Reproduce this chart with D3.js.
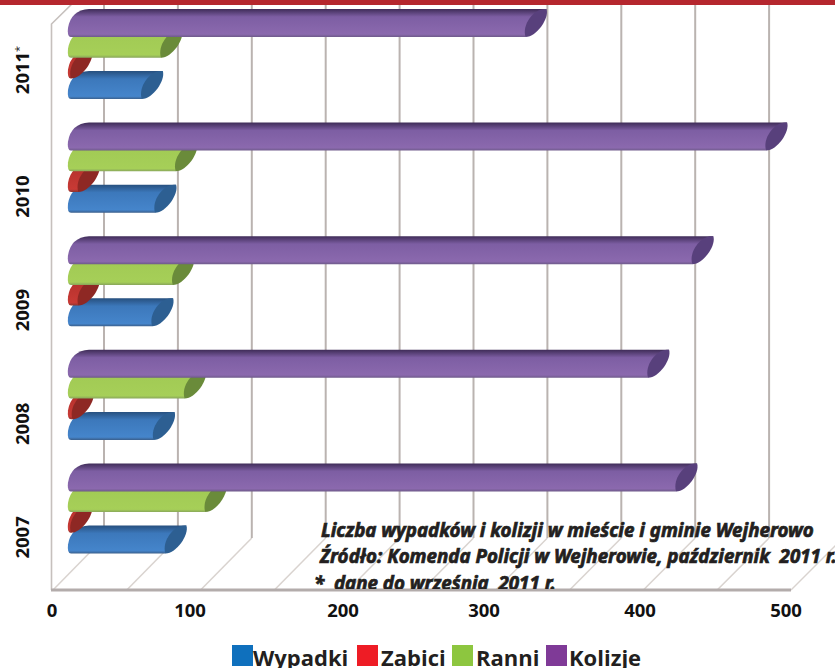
<!DOCTYPE html>
<html><head><meta charset="utf-8">
<script src="https://cdn.jsdelivr.net/npm/d3@7"></script>
<style>html,body{margin:0;padding:0;background:#fff}svg{display:block}</style>
</head><body><svg id="c" width="835" height="668"></svg>
<script>
const years = ["2007","2008","2009","2010","2011"];
const seriesNames = ["Wypadki","Zabici","Ranni","Kolizje"];
const wypadki = [66,58,57,59,50];
const zabici = [2,3,7,7,2];
const ranni = [93,79,71,73,63];
const kolizje = [412,393,423,473,310];
const ticks = [0,100,200,300,400,500];
const gridTicks = [0,50,100,150,200,250,300,350,400,450,500];
const noteLines = ["Liczba wypadków i kolizji w mieście i gminie Wejherowo","Źródło: Komenda Policji w Wejherowie, październik\u00a0 2011 r.","*\u00a0 dane do września\u00a0 2011 r."];

const fills = [
 {top:"#27507f",mid:"#3c78bb",bot:"#4585cb",cap:"#2d5f92",line:"#3a5f8c"},
 {top:"#7a2420",mid:"#b9332e",bot:"#c83a35",cap:"#8e2824",line:"#8a3430"},
 {top:"#7f9e45",mid:"#a2cb55",bot:"#a6cf58",cap:"#6a8b3a",line:"#88a65a"},
 {top:"#3f2c58",mid:"#7d5ea3",bot:"#8b69ae",cap:"#58407c",line:"#6e5a8a"}
];
const legendFills = ["#0f70bd","#ee1c25","#8dc63f","#7f3a97"];

const svg = d3.select("#c");
const defs = svg.append("defs");
fills.forEach((f,i)=>{
  const g = defs.append("linearGradient").attr("id","g"+i).attr("x1",0).attr("x2",0).attr("y1",0).attr("y2",1);
  g.append("stop").attr("offset","0").attr("stop-color",f.top);
  g.append("stop").attr("offset","0.28").attr("stop-color",f.mid);
  g.append("stop").attr("offset","0.9").attr("stop-color",f.bot);
  g.append("stop").attr("offset","1").attr("stop-color",f.line);
});
defs.append("clipPath").attr("id","noteClip").append("rect").attr("x",0).attr("y",0).attr("width",835).attr("height",589);

const floorFront = 590, floorBack = 538;
const xFront = d3.scaleLinear().domain([0,500]).range([53,791]);
const xBack = d3.scaleLinear().domain([0,500]).range([104,843]);
const xBar = d3.scaleLinear().domain([0,500]).range([68,806]);

const gridColor = "#bab3b0";
svg.append("g").selectAll("line").data(gridTicks).join("line")
  .attr("x1",d=>xFront(d)).attr("y1",floorFront)
  .attr("x2",d=>xBack(d)).attr("y2",floorBack)
  .attr("stroke","#d9d3cf").attr("stroke-width",1.5);
svg.append("g").selectAll("line").data(gridTicks).join("line")
  .attr("x1",d=>xBack(d)).attr("y1",floorBack)
  .attr("x2",d=>xBack(d)).attr("y2",0)
  .attr("stroke",gridColor).attr("stroke-width",2);
svg.append("path").attr("d","M51.5,590V24L76,0").attr("fill","none").attr("stroke","#c6c0bd").attr("stroke-width",1.6);
svg.append("line").attr("x1",51).attr("x2",791).attr("y1",590).attr("y2",590).attr("stroke","#b3acab").attr("stroke-width",3);

// bars
const groupY = d3.scaleBand().domain([...years].reverse()).range([9,577]);
const seriesStep = 20.7, barH = 28, dx = 21, x0 = xBar(0);
const rowTop = (year,s)=> groupY(year) + (3-s)*seriesStep;
const data = [wypadki,zabici,ranni,kolizje];
const barsG = svg.append("g");
years.slice().reverse().forEach(year=>{
  const i = years.indexOf(year);
  data.forEach((vals,s)=>{
    const yt = rowTop(year,s), yb = yt+barH, xe = xBar(vals[i]);
    const g = barsG.append("g");
    g.append("path").attr("fill",`url(#g${s})`).attr("d",
      `M${x0+3},${yb}L${xe},${yb}L${xe+dx},${yt}L${x0+dx},${yt}Q${x0+3},${yt+1} ${x0},${yb-9}Q${x0-1},${yb} ${x0+3},${yb}Z`);
    g.append("path").attr("fill",fills[s].cap).attr("d",
      `M${xe},${yb}C${xe-4},${yb-12} ${xe+8},${yt} ${xe+dx-2},${yt}L${xe+dx},${yt}C${xe+dx+3},${yt+9} ${xe+11},${yb} ${xe},${yb}Z`);
  });
});

// note
const note = svg.append("g").attr("clip-path","url(#noteClip)").attr("font-family","'Noto Sans',sans-serif").attr("font-weight",700).attr("font-style","italic")
  .attr("font-size",18.75).attr("fill","#231f20").attr("stroke","#231f20").attr("stroke-width",0.7);
[[321,537],[320,563],[314,590]].forEach((p,i)=>{
  note.append("text").attr("x",p[0]).attr("y",p[1]).text(noteLines[i]);
});

// tick labels
const tickX = d3.scaleLinear().domain(ticks).range([52,190,343,484,640,786]);
svg.append("g").selectAll("text").data(ticks).join("text")
  .attr("x",d=>tickX(d)).attr("y",617).attr("text-anchor","middle")
  .attr("font-family","'Open Sans',sans-serif").attr("font-weight",700).attr("font-size",18.5).attr("fill","#111")
  .text(d=>d);
// year labels
const yearG = svg.append("g").attr("font-family","'Open Sans',sans-serif").attr("font-weight",700).attr("font-size",18.5).attr("fill","#111");
years.forEach(y=>{
  const cy = groupY(y) + (y==="2011"?61:74);
  const t = yearG.append("text").attr("text-anchor","middle").attr("transform",`translate(29,${cy}) rotate(-90)`).text(y);
  if(y==="2011") t.append("tspan").attr("font-weight",400).attr("font-size",11).attr("dy",-6).text("*");
});

// legend
const legend = svg.append("g");
const legPos = [232,357,452,546];
const legText = [253,381,476,569];
seriesNames.forEach((n,i)=>{
  legend.append("rect").attr("x",legPos[i]).attr("y",645).attr("width",21).attr("height",21).attr("fill",legendFills[i]);
  legend.append("text").attr("x",legText[i]).attr("y",666).attr("font-family","'Open Sans',sans-serif").attr("font-weight",700)
    .attr("font-size",22).attr("fill","#231f20").text(n);
});
svg.append("rect").attr("x",0).attr("y",0).attr("width",835).attr("height",5).attr("fill","#b5272e");
</script></body></html>
